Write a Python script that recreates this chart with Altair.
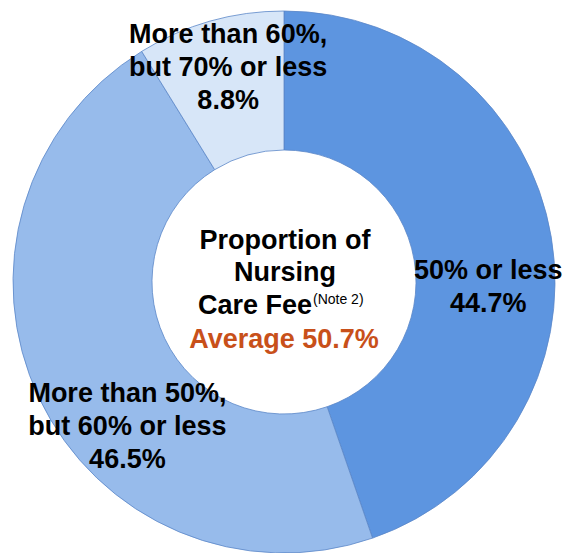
import altair as alt
import pandas as pd

categories = ["50% or less", "More than 50%, but 60% or less", "More than 60%, but 70% or less"]
values = [44.7, 46.5, 8.8]
label_texts = [["50% or less", "44.7%"],
               ["More than 50%,", "but 60% or less", "46.5%"],
               ["More than 60%,", "but 70% or less", "8.8%"]]
colors = ["#5D95E0", "#97BBEB", "#D7E6F8"]
center_title = ["Proportion of", "Nursing", "Care Fee"]
center_note = "(Note 2)"
center_avg = "Average 50.7%"

df = pd.DataFrame({"cat": categories, "value": values, "idx": list(range(len(values))),
                   "label": label_texts})
total = float(sum(values))

FONT = "Liberation Sans, Arial, sans-serif"
CX, CY = 284, 282
theta_scale = alt.Scale(domain=[0, total], range=[0, 6.283185307179586])

base = alt.Chart(df).transform_window(
    cum="sum(value)", sort=[alt.SortField("idx")], frame=[None, 0]
).transform_calculate(
    start="datum.cum - datum.value", mid="datum.cum - datum.value / 2"
)

arcs = base.mark_arc(innerRadius=132, outerRadius=271, stroke="#5a86c8", strokeWidth=0.8).encode(
    theta=alt.Theta("start:Q", scale=theta_scale),
    theta2="cum:Q",
    color=alt.Color("cat:N", scale=alt.Scale(domain=categories, range=colors), legend=None),
    x=alt.value(CX), y=alt.value(CY),
)

offsets = [(6, 22), (25, 26), (-1, -54)]
label_layers = []
for i, (ddx, ddy) in enumerate(offsets):
    label_layers.append(
        base.transform_filter(f"datum.idx == {i}").mark_text(
            font=FONT, fontSize=27, fontWeight="bold", color="black",
            align="center", baseline="middle", lineHeight=33, radius=201, dx=ddx, dy=ddy
        ).encode(
            theta=alt.Theta("mid:Q", scale=theta_scale),
            text="label",
            x=alt.value(CX), y=alt.value(CY),
        )
    )

def txt(s, x, y, size=27, weight="bold", color="black", align="center"):
    return alt.Chart(pd.DataFrame({"t": [s]})).mark_text(
        font=FONT, fontSize=size, fontWeight=weight, color=color, align=align,
        baseline="alphabetic"
    ).encode(text="t:N", x=alt.value(x), y=alt.value(y))

center = [
    txt(center_title[0], 285, 249),
    txt(center_title[1], 285, 281),
    txt(center_title[2], 312, 314, align="right"),
    txt(center_note, 313, 304, size=14, weight="normal", align="left"),
    txt(center_avg, 284, 348, color="#C8501A"),
]

chart = alt.layer(arcs, *label_layers, *center).properties(
    width=564, height=553, autosize=alt.AutoSizeParams(type="none"), padding=0
).configure_view(stroke=None)

chart.save("out.html", embed_options={"renderer": "svg", "actions": False})
